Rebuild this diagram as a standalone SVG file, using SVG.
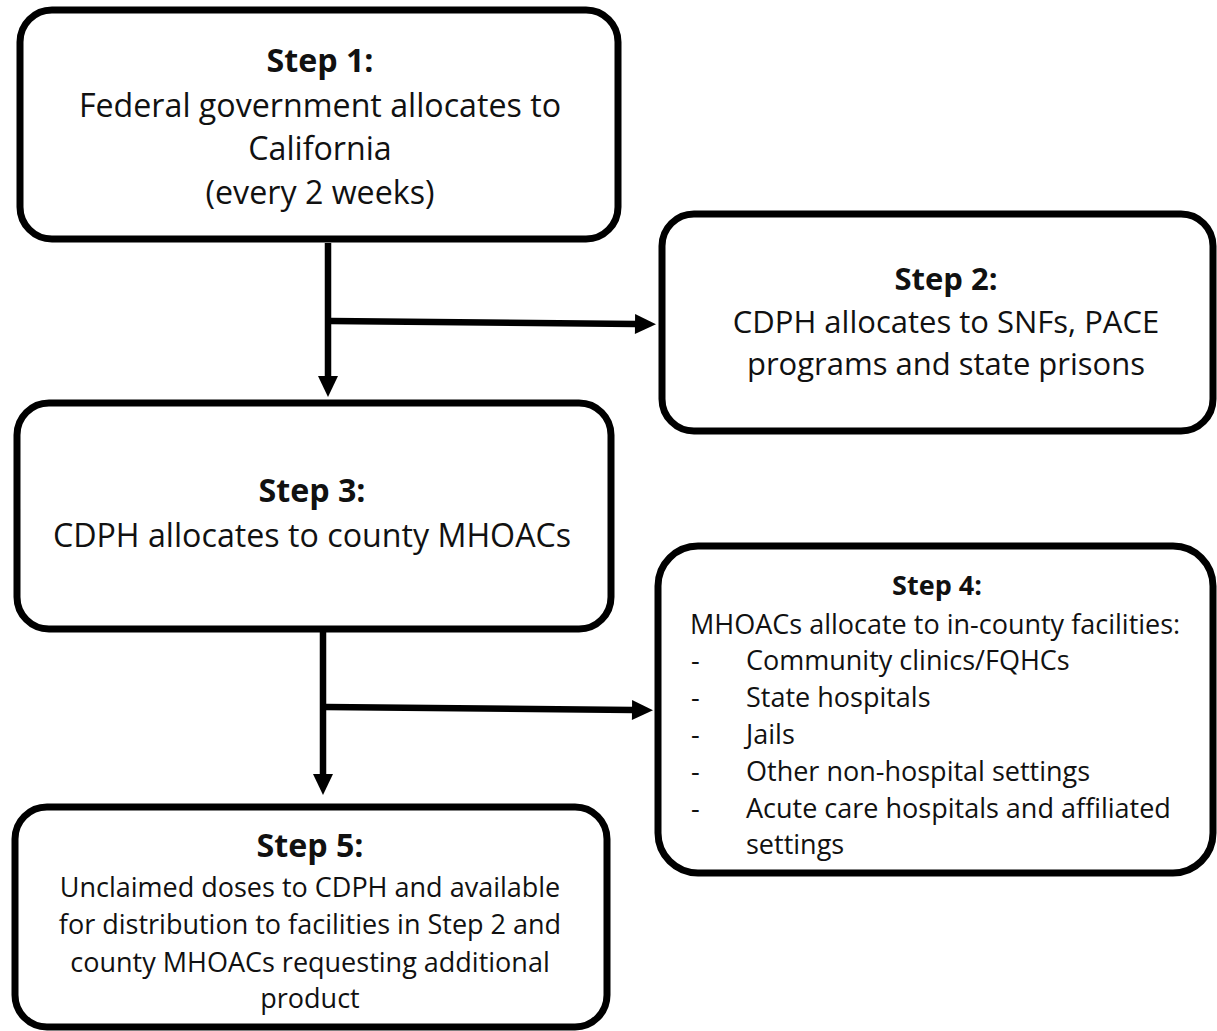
<svg xmlns="http://www.w3.org/2000/svg" width="1217" height="1031" viewBox="0 0 1217 1031">
<defs>
<marker id="ah" markerUnits="userSpaceOnUse" markerWidth="22" markerHeight="22" refX="1" refY="10" orient="auto" overflow="visible">
<path d="M0,0 L21,10 L0,20 Z" fill="#000"/>
</marker>
<style>
.box{fill:#fff;stroke:#000;stroke-width:7}
.t{font-family:"Open Sans","Liberation Sans",sans-serif;fill:#111}
.c{text-anchor:middle}
.b{font-weight:bold}
.big{font-size:32.2px}
.s2{font-size:31px}
.mid{font-size:27px}
.conn{fill:none;stroke:#000;stroke-width:6.5}
</style>
</defs>
<rect width="1217" height="1031" fill="#fff"/>
<g id="connectors">
<path class="conn" d="M328,243 L328,377" marker-end="url(#ah)"/>
<path class="conn" d="M331,321 L636,324" marker-end="url(#ah)"/>
<path class="conn" d="M323,632 L323,775" marker-end="url(#ah)"/>
<path class="conn" d="M326,707 L633,710" marker-end="url(#ah)"/>
</g>
<g id="step1">
<rect class="box" x="20" y="10" width="598" height="229" rx="32"/>
<text class="t c big b" x="320" y="72">Step 1:</text>
<text class="t c big" x="320" y="117">Federal government allocates to</text>
<text class="t c big" x="320" y="160">California</text>
<text class="t c big" x="320" y="204">(every 2 weeks)</text>
</g>
<g id="step2">
<rect class="box" x="662" y="214" width="551" height="217" rx="32"/>
<text class="t c s2 b" x="946" y="290">Step 2:</text>
<text class="t c s2" x="946" y="333">CDPH allocates to SNFs, PACE</text>
<text class="t c s2" x="946" y="375">programs and state prisons</text>
</g>
<g id="step3">
<rect class="box" x="17" y="403" width="594" height="226" rx="32"/>
<text class="t c big b" x="312" y="502">Step 3:</text>
<text class="t c big" x="312" y="547">CDPH allocates to county MHOACs</text>
</g>
<g id="step4">
<rect class="box" x="658" y="546" width="555" height="327" rx="40"/>
<text class="t c mid b" x="937" y="595">Step 4:</text>
<text class="t mid" x="690" y="634">MHOACs allocate to in-county facilities:</text>
<text class="t mid" x="691" y="670">-</text>
<text class="t mid" x="746" y="670">Community clinics/FQHCs</text>
<text class="t mid" x="691" y="707">-</text>
<text class="t mid" x="746" y="707">State hospitals</text>
<text class="t mid" x="691" y="744">-</text>
<text class="t mid" x="746" y="744">Jails</text>
<text class="t mid" x="691" y="781">-</text>
<text class="t mid" x="746" y="781">Other non-hospital settings</text>
<text class="t mid" x="691" y="818">-</text>
<text class="t mid" x="746" y="818">Acute care hospitals and affiliated</text>
<text class="t mid" x="746" y="854">settings</text>
</g>
<g id="step5">
<rect class="box" x="15" y="807" width="592" height="220" rx="32"/>
<text class="t c big b" x="310" y="857">Step 5:</text>
<text class="t c mid" x="310" y="897">Unclaimed doses to CDPH and available</text>
<text class="t c mid" x="310" y="934">for distribution to facilities in Step 2 and</text>
<text class="t c mid" x="310" y="972">county MHOACs requesting additional</text>
<text class="t c mid" x="310" y="1008">product</text>
</g>
</svg>
